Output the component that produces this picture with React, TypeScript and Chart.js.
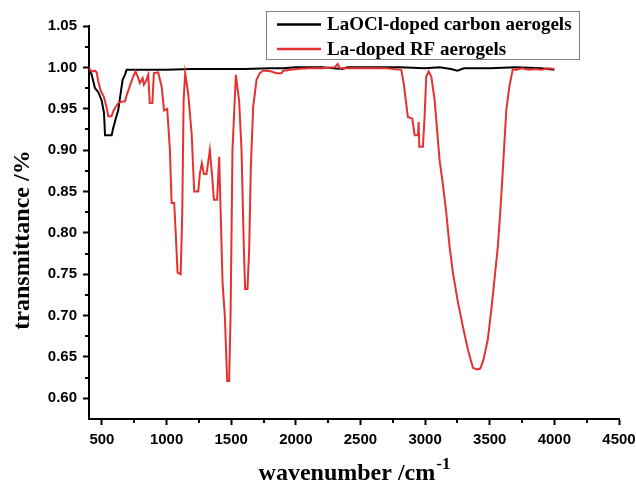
import React, { useEffect, useRef } from 'react';
import { Chart, registerables } from 'chart.js';

Chart.register(...registerables);

const seriesNames = ['LaOCl-doped carbon aerogels', 'La-doped RF aerogels'];
const seriesColors = ['#000000', '#e5312f'];

const blackWavenumbers = [400, 421, 446, 472, 498, 516, 524, 575, 588, 609, 626, 645, 660, 678, 691, 800, 1000, 1200, 1400, 1600, 1800, 1900, 2000, 2200, 2360, 2400, 2600, 2800, 3000, 3113, 3200, 3250, 3300, 3500, 3700, 3900, 4000];
const blackTransmittance = [0.999, 0.991, 0.975, 0.970, 0.960, 0.945, 0.918, 0.918, 0.927, 0.939, 0.948, 0.969, 0.985, 0.991, 0.997, 0.997, 0.997, 0.998, 0.998, 0.998, 0.999, 0.999, 1.000, 1.000, 0.998, 1.000, 1.000, 1.000, 0.999, 1.000, 0.998, 0.996, 0.999, 0.999, 1.000, 0.999, 0.997];

const redWavenumbers = [400, 410, 421, 446, 459, 472, 490, 516, 537, 549, 575, 588, 609, 634, 678, 691, 717, 742, 761, 781, 794, 815, 825, 840, 858, 870, 890, 902, 935, 962, 980, 1005, 1026, 1039, 1059, 1072, 1085, 1109, 1121, 1132, 1144, 1167, 1194, 1214, 1245, 1258, 1273, 1289, 1309, 1335, 1353, 1366, 1391, 1407, 1433, 1451, 1469, 1484, 1495, 1510, 1536, 1561, 1580, 1598, 1608, 1626, 1639, 1652, 1670, 1696, 1721, 1747, 1773, 1812, 1850, 1889, 1901, 2005, 2100, 2200, 2300, 2324, 2340, 2400, 2500, 2600, 2700, 2816, 2834, 2867, 2901, 2919, 2945, 2950, 2955, 2983, 2996, 3009, 3027, 3048, 3074, 3112, 3133, 3164, 3189, 3215, 3254, 3292, 3331, 3370, 3400, 3427, 3452, 3485, 3512, 3537, 3563, 3581, 3597, 3628, 3653, 3679, 3700, 3750, 3800, 3850, 3900, 3950, 4000];
const redTransmittance = [0.999, 0.997, 0.995, 0.996, 0.994, 0.983, 0.972, 0.964, 0.951, 0.941, 0.941, 0.947, 0.953, 0.958, 0.959, 0.966, 0.978, 0.989, 0.995, 0.987, 0.981, 0.987, 0.979, 0.983, 0.991, 0.957, 0.957, 0.993, 0.994, 0.977, 0.948, 0.950, 0.900, 0.836, 0.836, 0.796, 0.752, 0.750, 0.820, 0.960, 0.993, 0.969, 0.920, 0.850, 0.850, 0.872, 0.884, 0.871, 0.871, 0.900, 0.868, 0.840, 0.840, 0.892, 0.740, 0.699, 0.621, 0.621, 0.699, 0.900, 0.991, 0.960, 0.900, 0.780, 0.732, 0.732, 0.780, 0.880, 0.952, 0.985, 0.993, 0.996, 0.996, 0.995, 0.993, 0.993, 0.996, 0.998, 0.999, 0.999, 1.000, 1.004, 0.999, 0.999, 0.999, 0.999, 0.999, 0.997, 0.981, 0.940, 0.938, 0.918, 0.918, 0.934, 0.904, 0.904, 0.940, 0.989, 0.995, 0.989, 0.960, 0.888, 0.864, 0.824, 0.784, 0.752, 0.716, 0.687, 0.659, 0.637, 0.635, 0.636, 0.647, 0.671, 0.707, 0.744, 0.784, 0.824, 0.864, 0.948, 0.978, 0.998, 0.997, 0.999, 0.997, 0.998, 0.997, 0.999, 0.998];

const xMajorTicks = [500, 1000, 1500, 2000, 2500, 3000, 3500, 4000, 4500];
const xMinorTicks = [750, 1250, 1750, 2250, 2750, 3250, 3750, 4250];
const yMajorTicks = [0.60, 0.65, 0.70, 0.75, 0.80, 0.85, 0.90, 0.95, 1.00, 1.05];
const yMinorTicks = [0.625, 0.675, 0.725, 0.775, 0.825, 0.875, 0.925, 0.975, 1.025];

const xTitle = 'wavenumber /cm';
const xTitleSup = '-1';
const yTitle = 'transmittance /%';

const toPoints = (xs: number[], ys: number[]) => xs.map((x, i) => ({ x, y: ys[i] }));

const decorPlugin = {
  id: 'decor',
  afterDraw(chart: any) {
    const { ctx, chartArea, scales } = chart;
    const xs = scales.x;
    const ys = scales.y;
    ctx.save();
    // minor ticks
    ctx.strokeStyle = '#000';
    ctx.lineWidth = 2;
    ctx.beginPath();
    xMinorTicks.forEach((v) => {
      const px = Math.round(xs.getPixelForValue(v));
      ctx.moveTo(px, chartArea.bottom);
      ctx.lineTo(px, chartArea.bottom + 4);
    });
    yMinorTicks.forEach((v) => {
      const py = Math.round(ys.getPixelForValue(v));
      ctx.moveTo(chartArea.left - 4, py);
      ctx.lineTo(chartArea.left, py);
    });
    ctx.stroke();

    // x title with superscript
    const mainFont = 'bold 24px "Liberation Serif", "Times New Roman", serif';
    const supFont = 'bold 17px "Liberation Serif", "Times New Roman", serif';
    ctx.fillStyle = '#000';
    ctx.textBaseline = 'alphabetic';
    ctx.font = mainFont;
    const wMain = ctx.measureText(xTitle).width;
    ctx.font = supFont;
    const wSup = ctx.measureText(xTitleSup).width;
    const cx = (chartArea.left + chartArea.right) / 2;
    const startX = cx - (wMain + wSup) / 2;
    const baseY = 480;
    ctx.font = mainFont;
    ctx.textAlign = 'left';
    ctx.fillText(xTitle, startX, baseY);
    ctx.font = supFont;
    ctx.fillText(xTitleSup, startX + wMain + 1, baseY - 11);

    // y title
    ctx.save();
    ctx.translate(29, 240);
    ctx.rotate(-Math.PI / 2);
    ctx.font = mainFont;
    ctx.textAlign = 'center';
    ctx.fillText(yTitle, 0, 0);
    ctx.restore();

    // legend
    ctx.strokeStyle = '#808080';
    ctx.lineWidth = 1;
    ctx.strokeRect(266.5, 11.5, 313, 48);
    const rows = [24.5, 49];
    ctx.font = 'bold 19px "Liberation Serif", "Times New Roman", serif';
    ctx.textBaseline = 'middle';
    ctx.textAlign = 'left';
    seriesNames.forEach((name, i) => {
      ctx.strokeStyle = seriesColors[i];
      ctx.lineWidth = 2.5;
      ctx.beginPath();
      ctx.moveTo(277, rows[i]);
      ctx.lineTo(321, rows[i]);
      ctx.stroke();
      ctx.fillStyle = '#000';
      ctx.fillText(name, 327, rows[i] + 1);
    });
    ctx.restore();
  },
};

export default function App() {
  const canvasRef = useRef<HTMLCanvasElement | null>(null);

  useEffect(() => {
    document.body.style.margin = '0';
    const canvas = canvasRef.current;
    if (!canvas) return;
    const tickFont = { family: '"Liberation Sans", Arial, sans-serif', weight: 'bold' as const, size: 15 };
    const chart = new Chart(canvas, {
      type: 'line',
      data: {
        datasets: [
          {
            label: seriesNames[0],
            data: toPoints(blackWavenumbers, blackTransmittance),
            borderColor: seriesColors[0],
            borderWidth: 2,
            pointRadius: 0,
            tension: 0,
            fill: false,
            order: 1,
          },
          {
            label: seriesNames[1],
            data: toPoints(redWavenumbers, redTransmittance),
            borderColor: seriesColors[1],
            borderWidth: 2,
            pointRadius: 0,
            tension: 0,
            fill: false,
            order: 0,
          },
        ],
      },
      options: {
        animation: false,
        responsive: false,
        devicePixelRatio: 1,
        layout: { padding: { top: 26, right: 17, left: 0, bottom: 0 } },
        plugins: { legend: { display: false }, tooltip: { enabled: false }, title: { display: false } },
        scales: {
          x: {
            type: 'linear',
            min: 400,
            max: 4500,
            afterBuildTicks: (s: any) => {
              s.ticks = xMajorTicks.map((v) => ({ value: v }));
            },
            afterFit: (s: any) => {
              s.height = 76;
              s.paddingLeft = 0;
              s.paddingRight = 0;
            },
            ticks: {
              font: tickFont,
              color: '#000',
              maxRotation: 0,
              autoSkip: false,
              padding: 6,
              callback: (v: any) => String(v),
            },
            grid: { display: true, drawOnChartArea: false, tickLength: 6, tickWidth: 2, tickColor: '#000' },
            border: { display: true, color: '#000', width: 2 },
          },
          y: {
            type: 'linear',
            min: 0.575,
            max: 1.05,
            afterBuildTicks: (s: any) => {
              s.ticks = yMajorTicks.map((v) => ({ value: v }));
            },
            afterFit: (s: any) => {
              s.width = 89;
              s.paddingTop = 0;
              s.paddingBottom = 0;
            },
            ticks: {
              font: tickFont,
              color: '#000',
              padding: 6,
              callback: (v: any) => Number(v).toFixed(2),
            },
            grid: { display: true, drawOnChartArea: false, tickLength: 6, tickWidth: 2, tickColor: '#000' },
            border: { display: true, color: '#000', width: 2 },
          },
        },
      },
      plugins: [decorPlugin],
    });
    return () => chart.destroy();
  }, []);

  return <canvas ref={canvasRef} width={636} height={495} style={{ display: 'block' }} />;
}
